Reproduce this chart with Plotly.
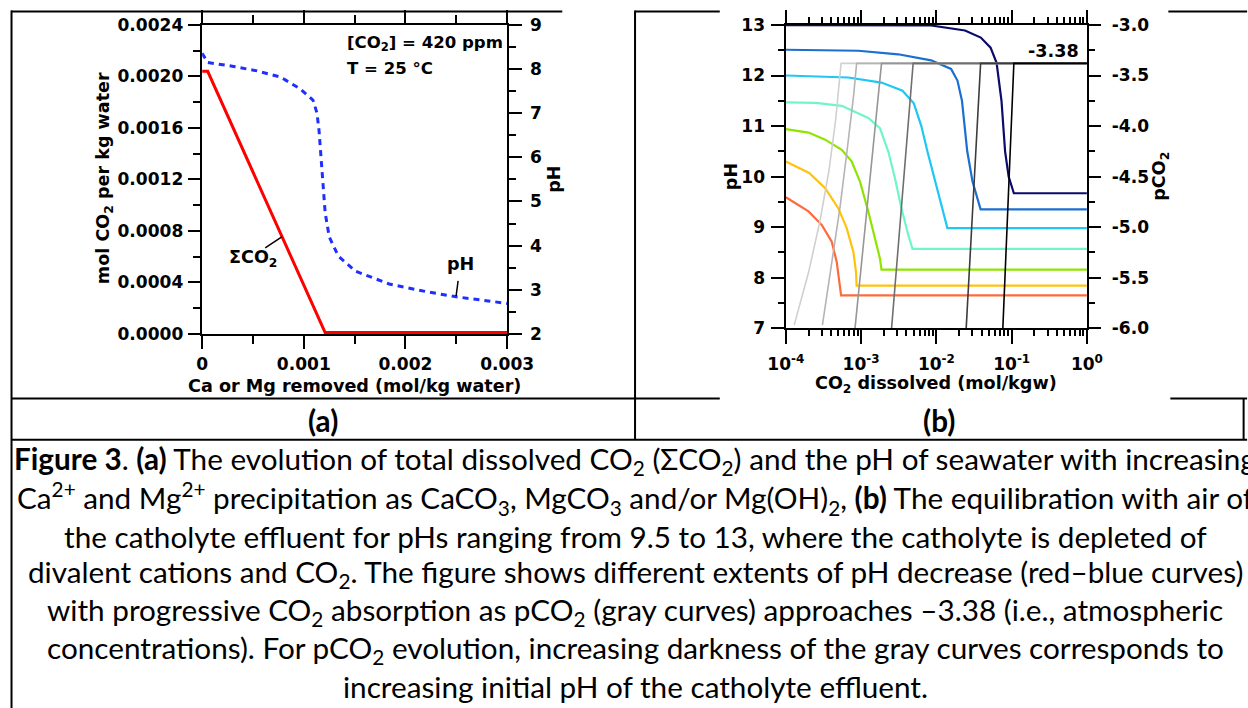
import plotly.graph_objects as go

# ---------------- Panel (a) data ----------------
ca_removed_sco2 = [0.0, 0.000055, 0.00121, 0.003]
sum_co2 = [0.00204, 0.00204, 0.00001, 0.00001]

ca_removed_ph = [0.0, 0.000055, 0.00031, 0.00054, 0.00077, 0.00096, 0.00109, 0.00113, 0.00115,
                 0.00117, 0.00119, 0.00121, 0.00125, 0.00134, 0.00151, 0.00184, 0.00222, 0.0025, 0.003]
ph_seawater = [8.36, 8.15, 8.06, 7.96, 7.82, 7.56, 7.30, 7.00, 6.60,
               5.90, 5.30, 4.75, 4.20, 3.76, 3.42, 3.13, 2.95, 2.84, 2.69]

a_x_ticks = [0, 0.001, 0.002, 0.003]
a_x_labels = ["0", "0.001", "0.002", "0.003"]
a_x_minor = [0.0005, 0.0015, 0.0025]
a_y_ticks = [0, 0.0004, 0.0008, 0.0012, 0.0016, 0.0020, 0.0024]
a_y_labels = ["0.0000", "0.0004", "0.0008", "0.0012", "0.0016", "0.0020", "0.0024"]
a_ph_ticks = [2, 3, 4, 5, 6, 7, 8, 9]

# ---------------- Panel (b) data ----------------
# pH curves (red -> blue), CO2 dissolved in mol/kgw
ph95_x = [1e-4, 2.0e-4, 3.01e-4, 4.07e-4, 4.74e-4, 5.15e-4, 5.42e-4, 1.0]
ph95_y = [9.59, 9.31, 9.04, 8.71, 8.31, 7.85, 7.65, 7.65]
ph103_x = [1e-4, 2.04e-4, 3.33e-4, 4.99e-4, 6.43e-4, 7.89e-4, 8.55e-4, 8.71e-4, 1.0]
ph103_y = [10.30, 10.07, 9.77, 9.37, 8.98, 8.51, 8.11, 7.84, 7.84]
ph109_x = [1e-4, 2.0e-4, 3.33e-4, 5.52e-4, 7.48e-4, 9.66e-4, 1.245e-3, 1.528e-3, 1.778e-3, 1.866e-3, 1.0]
ph109_y = [10.94, 10.87, 10.73, 10.53, 10.30, 9.90, 9.31, 8.78, 8.38, 8.16, 8.16]
ph115_x = [1e-4, 2.5e-4, 5.52e-4, 1.245e-3, 1.778e-3, 2.29e-3, 2.81e-3, 3.44e-3, 4.22e-3, 4.81e-3, 1.0]
ph115_y = [11.47, 11.46, 11.40, 11.16, 10.96, 10.50, 9.97, 9.37, 8.85, 8.57, 8.57]
ph120_x = [1e-4, 6.76e-4, 1.862e-3, 3.55e-3, 5.01e-3, 6.31e-3, 7.59e-3, 9.33e-3, 1.148e-2, 1.40e-2, 1.0]
ph120_y = [12.0, 11.96, 11.86, 11.70, 11.45, 11.0, 10.5, 10.0, 9.45, 8.98, 8.98]
ph125_x = [1e-4, 9.18e-4, 3.11e-3, 8.51e-3, 1.567e-2, 1.905e-2, 2.188e-2, 2.57e-2, 3.02e-2, 3.55e-2, 3.87e-2, 1.0]
ph125_y = [12.51, 12.49, 12.42, 12.30, 12.13, 11.9, 11.5, 10.5, 9.9, 9.55, 9.35, 9.35]
ph130_x = [1e-4, 8.51e-3, 2.40e-2, 3.89e-2, 5.25e-2, 6.31e-2, 7.33e-2, 8.18e-2, 9.12e-2, 0.107, 1.0]
ph130_y = [12.995, 12.99, 12.89, 12.75, 12.55, 12.25, 11.5, 10.5, 10.0, 9.67, 9.67]

# pCO2 curves (gray), CO2 dissolved in mol/kgw
pco2_1_x = [1.29e-4, 2.0e-4, 2.82e-4, 3.72e-4, 4.57e-4, 5.13e-4, 5.42e-4, 1.0]
pco2_1_y = [-5.97, -5.45, -4.95, -4.45, -3.95, -3.60, -3.38, -3.38]
pco2_2_x = [3.06e-4, 3.98e-4, 5.25e-4, 6.61e-4, 7.94e-4, 8.71e-4, 1.0]
pco2_2_y = [-5.97, -5.40, -4.80, -4.20, -3.70, -3.38, -3.38]
pco2_3_x = [8.3e-4, 1.866e-3, 1.0]
pco2_3_y = [-6.0, -3.38, -3.38]
pco2_4_x = [2.54e-3, 4.91e-3, 1.0]
pco2_4_y = [-6.0, -3.38, -3.38]
pco2_5_x = [2.49e-2, 3.87e-2, 1.0]
pco2_5_y = [-6.0, -3.38, -3.38]
pco2_6_x = [7.64e-2, 0.107, 1.0]
pco2_6_y = [-6.0, -3.38, -3.38]

b_x_ticks = [1e-4, 1e-3, 1e-2, 1e-1, 1]
b_x_labels = ["10<sup>-4</sup>", "10<sup>-3</sup>", "10<sup>-2</sup>", "10<sup>-1</sup>", "10<sup>0</sup>"]
b_x_minor = [m * d for d in (1e-4, 1e-3, 1e-2, 1e-1) for m in range(2, 10)]
b_ph_ticks = [7, 8, 9, 10, 11, 12, 13]
b_pco2_ticks = [-6.0, -5.5, -5.0, -4.5, -4.0, -3.5, -3.0]
b_pco2_labels = ["-6.0", "-5.5", "-5.0", "-4.5", "-4.0", "-3.5", "-3.0"]

caption_lines = [
    "<b>Figure 3</b>. <b>(a)</b> The evolution of total dissolved CO<sub>2</sub> (ΣCO<sub>2</sub>) and the pH of seawater with increasing",
    "Ca<sup>2+</sup> and Mg<sup>2+</sup> precipitation as CaCO<sub>3</sub>, MgCO<sub>3</sub> and/or Mg(OH)<sub>2</sub>, <b>(b)</b> The equilibration with air of",
    "the catholyte effluent for pHs ranging from 9.5 to 13, where the catholyte is depleted of",
    "divalent cations and CO<sub>2</sub>. The figure shows different extents of pH decrease (red–blue curves)",
    "with progressive CO<sub>2</sub> absorption as pCO<sub>2</sub> (gray curves) approaches –3.38 (i.e., atmospheric",
    "concentrations). For pCO<sub>2</sub> evolution, increasing darkness of the gray curves corresponds to",
    "increasing initial pH of the catholyte effluent.",
]

# ---------------- layout helpers ----------------
W, H = 1248, 708
# the photographed page is slightly scaled/offset; positions below are target picture pixels
S, OX, OY = 0.967, 17.0, 9.4


def cx(x):
    return (x - OX) / S


def cy(y):
    return (y - OY) / S


def px(x):
    return cx(x) / W


def py(y):
    return 1 - cy(y) / H


def fs(v):
    return v / S


CF = "DejaVu Sans"
tickfont = dict(family=CF, size=fs(16.5), color="black", weight="bold")
titlefont = dict(family=CF, size=fs(17), color="black", weight="bold")
notefont = dict(family=CF, size=fs(16), color="black", weight="bold")
CAPF = "Lato"

fig = go.Figure()

# panel (a)
fig.add_trace(go.Scatter(x=ca_removed_sco2, y=sum_co2, mode="lines",
                         line=dict(color="#ff0000", width=3), xaxis="x", yaxis="y"))
fig.add_trace(go.Scatter(x=ca_removed_ph, y=ph_seawater, mode="lines",
                         line=dict(color="#1f2fff", width=3, dash="6px,5px"), xaxis="x", yaxis="y2"))

# panel (b) gray pCO2 curves
grays = ["#d0d0d0", "#b4b4b4", "#969696", "#6e6e6e", "#3c3c3c", "#000000"]
gray_data = [(pco2_1_x, pco2_1_y), (pco2_2_x, pco2_2_y), (pco2_3_x, pco2_3_y),
             (pco2_4_x, pco2_4_y), (pco2_5_x, pco2_5_y), (pco2_6_x, pco2_6_y)]
for (gx, gy), gc in zip(gray_data, grays):
    fig.add_trace(go.Scatter(x=gx, y=gy, mode="lines", line=dict(color=gc, width=1.6),
                             xaxis="x2", yaxis="y4"))

colors = ["#ff6a3d", "#ffc20e", "#8fe400", "#6ff5cb", "#1ec8f5", "#1a6fd1", "#0b0b6b"]
ph_data = [(ph95_x, ph95_y), (ph103_x, ph103_y), (ph109_x, ph109_y), (ph115_x, ph115_y),
           (ph120_x, ph120_y), (ph125_x, ph125_y), (ph130_x, ph130_y)]
for (cxs, cys), cc in zip(ph_data, colors):
    fig.add_trace(go.Scatter(x=cxs, y=cys, mode="lines", line=dict(color=cc, width=2.2),
                             xaxis="x2", yaxis="y3"))

axis_base = dict(showline=True, linecolor="black", linewidth=2, ticks="outside", tickcolor="black",
                 tickwidth=2, ticklen=fs(12), showgrid=False, zeroline=False, tickfont=tickfont)
minor_base = dict(ticks="outside", ticklen=fs(7), tickwidth=2, tickcolor="black", showgrid=False)

dom_a_x = [px(201.7), px(507.7)]
dom_a_y = [py(331.7), py(24.3)]
dom_b_x = [px(787.3), px(1089.3)]
dom_b_y = [py(326.0), py(24.3)]

fig.update_layout(
    width=W, height=H, margin=dict(l=0, r=0, t=0, b=0),
    paper_bgcolor="white", plot_bgcolor="rgba(0,0,0,0)", showlegend=False,
    xaxis=dict(axis_base, domain=dom_a_x, range=[0, 0.003], anchor="y", mirror="ticks",
               tickmode="array", tickvals=a_x_ticks, ticktext=a_x_labels, ticklen=fs(13),
               ticklabelstandoff=0,
               minor=dict(minor_base, tickmode="array", tickvals=a_x_minor, ticklen=fs(8))),
    yaxis=dict(axis_base, domain=dom_a_y, range=[0, 0.0024], anchor="x",
               tickmode="array", tickvals=a_y_ticks, ticktext=a_y_labels, ticklabelstandoff=1,
               minor=dict(minor_base, dtick=0.0002)),
    yaxis2=dict(axis_base, range=[2, 9], anchor="x", overlaying="y", side="right",
                tickmode="array", tickvals=a_ph_ticks, ticklabelstandoff=5,
                minor=dict(minor_base, dtick=0.5)),
    xaxis2=dict(axis_base, domain=dom_b_x, type="log", range=[-4, 0], anchor="y3", mirror="ticks",
                tickmode="array", tickvals=b_x_ticks, ticktext=b_x_labels, ticklen=fs(13),
                ticklabelstandoff=6,
                minor=dict(minor_base, tickmode="array", tickvals=b_x_minor, ticklen=fs(6))),
    yaxis3=dict(axis_base, domain=dom_b_y, range=[7, 13], anchor="x2",
                tickmode="array", tickvals=b_ph_ticks, ticklabelstandoff=3,
                minor=dict(minor_base, dtick=0.5, ticklen=fs(6))),
    yaxis4=dict(axis_base, range=[-6, -3], anchor="x2", overlaying="y3", side="right",
                tickmode="array", tickvals=b_pco2_ticks, ticktext=b_pco2_labels, ticklabelstandoff=7,
                minor=dict(minor_base, dtick=0.25, ticklen=fs(6))),
)

ann = []


def text(x, y, s, font, xanchor="center", angle=0):
    ann.append(dict(x=px(x), y=py(y), xref="paper", yref="paper", text=s, showarrow=False,
                    xanchor=xanchor, yanchor="middle", textangle=angle, font=font))


# panel (a) texts
text(345, 43, "[CO<sub>2</sub>] = 420 ppm", notefont, "left")
text(345, 68, "T = 25 °C", notefont, "left")
text(252.5, 256.7, "ΣCO<sub>2</sub>", titlefont)
text(460.8, 261.7, "pH", titlefont)
text(354.5, 384, "Ca or Mg removed (mol/kg water)", titlefont)
text(104, 177, "mol CO<sub>2</sub> per kg water", titlefont, angle=-90)
text(555, 178, "pH", titlefont, angle=-90)

# panel (b) texts
text(1083, 50, "-3.38", titlefont, "right")
text(938, 382, "CO<sub>2</sub> dissolved (mol/kgw)", titlefont)
text(733, 175, "pH", titlefont, angle=-90)
text(1163, 175, "pCO<sub>2</sub>", titlefont, angle=-90)

# table row labels and caption
capbold = dict(family=CAPF, size=29.7, color="black", weight="bold")
capfont = dict(family=CAPF, size=29.7, color="black")
text(323, 418, "(a)", capbold)
text(941, 418, "(b)", capbold)
for i, line in enumerate(caption_lines):
    text(636, 458 + 37.5 * i, line, capfont)

fig.update_layout(annotations=ann)

# table borders and leader lines
shapes = []


def seg(x0, y0, x1, y1, w=2):
    shapes.append(dict(type="line", xref="paper", yref="paper", x0=px(x0), y0=py(y0),
                       x1=px(x1), y1=py(y1), line=dict(color="black", width=w)))


seg(10, 11, 563, 11)
seg(636, 11, 721, 11)
seg(1171, 11, 1250, 11)
seg(10.5, 10, 10.5, 710)
seg(636, 10, 636, 437)
seg(10, 396, 721, 396)
seg(1173, 396, 1250, 396)
seg(10, 437, 1250, 437)
seg(1246.5, 396, 1246.5, 437)
seg(265, 246, 282, 235, 1.5)
seg(458.5, 279, 456.5, 294, 1.5)
fig.update_layout(shapes=shapes)

fig.write_html(
    "out.html",
    config={"displayModeBar": False},
    post_script="document.documentElement.style.overflow='hidden';"
                "document.body.style.margin='0px';document.body.style.overflow='hidden';",
)
